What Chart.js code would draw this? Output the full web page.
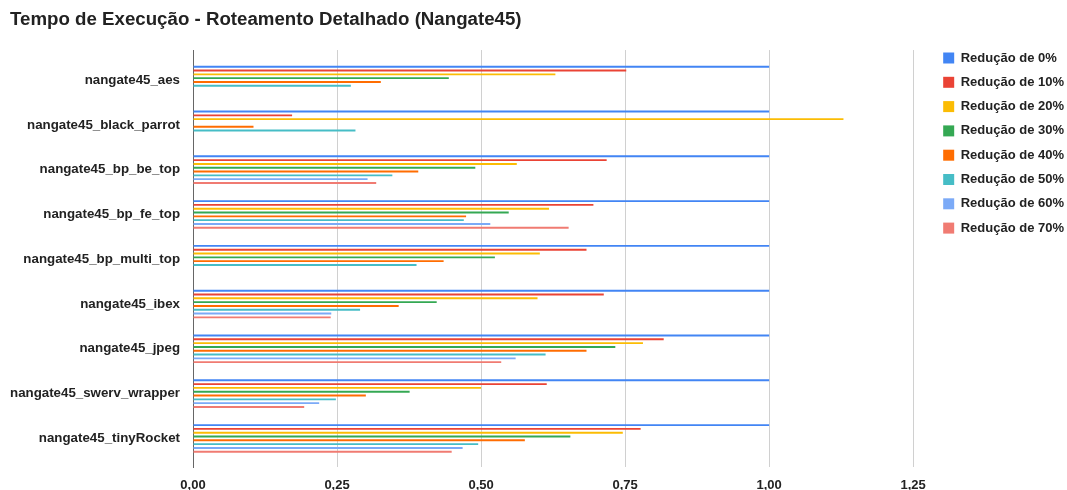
<!DOCTYPE html>
<html>
<head>
<meta charset="utf-8">
<script src="https://cdn.jsdelivr.net/npm/chart.js@4.4.1/dist/chart.umd.min.js"></script>
<style>
  html, body { margin: 0; padding: 0; background: #ffffff; }
  #wrap { width: 1067px; height: 490px; position: relative; }
</style>
</head>
<body>
<div id="wrap"><canvas id="chart"></canvas></div>
<script>
// Designs (rows of the chart)
const categories = [
  'nangate45_aes',
  'nangate45_black_parrot',
  'nangate45_bp_be_top',
  'nangate45_bp_fe_top',
  'nangate45_bp_multi_top',
  'nangate45_ibex',
  'nangate45_jpeg',
  'nangate45_swerv_wrapper',
  'nangate45_tinyRocket'
];

// Normalised detailed-routing runtime per reduction level (null = no run)
const reducao0  = [1.00, 1.00, 1.00, 1.00, 1.00, 1.00, 1.00, 1.00, 1.00];
const reducao10 = [0.752, 0.172, 0.718, 0.695, 0.683, 0.713, 0.817, 0.614, 0.777];
const reducao20 = [0.629, 1.129, 0.562, 0.618, 0.602, 0.598, 0.781, 0.500, 0.746];
const reducao30 = [0.444, null,  0.490, 0.548, 0.524, 0.423, 0.733, 0.376, 0.655];
const reducao40 = [0.326, 0.105, 0.391, 0.474, 0.435, 0.357, 0.683, 0.300, 0.576];
const reducao50 = [0.274, 0.282, 0.346, 0.470, 0.388, 0.290, 0.612, 0.248, 0.495];
const reducao60 = [null,  null,  0.303, 0.516, null,  0.240, 0.560, 0.219, 0.468];
const reducao70 = [null,  null,  0.318, 0.652, null,  0.239, 0.535, 0.193, 0.449];

const seriesNames = [
  'Redução de 0%', 'Redução de 10%', 'Redução de 20%', 'Redução de 30%',
  'Redução de 40%', 'Redução de 50%', 'Redução de 60%', 'Redução de 70%'
];
const seriesValues = [reducao0, reducao10, reducao20, reducao30, reducao40, reducao50, reducao60, reducao70];
const seriesColors = ['#4285F4', '#EA4335', '#FBBC04', '#34A853', '#FF6D01', '#46BDC6', '#7BAAF7', '#F07B72'];

// X axis tick values
const xTicks = [0, 0.25, 0.5, 0.75, 1.0, 1.25];

const FONT = "'Liberation Sans', Arial, sans-serif";
// Row index range shown on the category axis (some breathing room each side)
const Y_MIN = -0.67, Y_MAX = 8.638;

const datasets = seriesNames.map((name, s) => ({
  label: name,
  data: seriesValues[s].map((v, i) => ({ x: v, y: i })),
  backgroundColor: seriesColors[s],
  borderWidth: 0,
  categoryPercentage: 0.68,
  barPercentage: 0.5
}));

new Chart(document.getElementById('chart'), {
  type: 'bar',
  data: { datasets },
  options: {
    indexAxis: 'y',
    responsive: true,
    maintainAspectRatio: false,
    animation: false,
    layout: { padding: { left: 10, right: -7, top: 0, bottom: 0 } },
    plugins: {
      title: {
        display: true,
        text: 'Tempo de Execução - Roteamento Detalhado (Nangate45)',
        align: 'start',
        color: '#222',
        font: { family: FONT, size: 18.7, weight: 'bold' },
        padding: { top: 8.8, bottom: 18.8 }
      },
      legend: {
        position: 'right',
        align: 'start',
        title: { display: true, text: '', padding: { top: 25.8, bottom: 0 }, font: { size: 12 } },
        labels: {
          boxWidth: 11,
          boxHeight: 11,
          padding: 11.3,
          color: '#222',
          font: { family: FONT, size: 13, weight: 'bold' }
        }
      },
      tooltip: { enabled: false }
    },
    scales: {
      x: {
        type: 'linear',
        min: 0,
        max: 1.2825,
        afterBuildTicks: (scale) => { scale.ticks = xTicks.map(v => ({ value: v })); },
        afterFit: (scale) => { scale.height = 23; },
        ticks: {
          padding: 11.5,
          color: '#222',
          font: { family: FONT, size: 13, weight: 'bold', lineHeight: 1 },
          callback: (v) => Number(v).toFixed(2).replace('.', ',')
        },
        grid: { color: '#d0d0d0', lineWidth: 1, drawTicks: false },
        border: { display: false }
      },
      y: {
        type: 'linear',
        reverse: true,
        offset: false,
        bounds: 'data',
        min: Y_MIN,
        max: Y_MAX,
        afterBuildTicks: (scale) => {
          scale.ticks = categories.map((_, i) => ({ value: i }));
          scale.min = Y_MIN;
          scale.max = Y_MAX;
        },
        afterFit: (scale) => { scale.width = 183; },
        ticks: {
          padding: 13,
          color: '#222',
          font: { family: FONT, size: 13.3, weight: 'bold' },
          callback: (v) => categories[Math.round(v)]
        },
        grid: { display: false, drawTicks: false },
        border: { display: true, color: '#666', width: 1 }
      }
    }
  }
});
</script>
</body>
</html>
